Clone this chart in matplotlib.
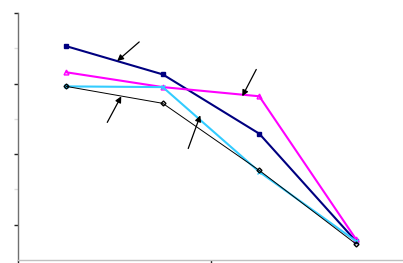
import matplotlib
matplotlib.use('Agg')
from matplotlib import pyplot
from matplotlib.ticker import FixedLocator

# Data #
categories = [0, 1, 2, 3]
navy_vals    = [3.53, 3.13, 2.29, 0.77]
magenta_vals = [3.16, 2.95, 2.82, 0.80]
cyan_vals    = [2.96, 2.95, 1.75, 0.77]
black_vals   = [2.96, 2.72, 1.77, 0.73]

# Arrows (tail, head) in data units #
arrows = [((0.756, 3.59), (0.528, 3.32)),
          ((0.425, 2.45), (0.570, 2.82)),
          ((1.264, 2.08), (1.389, 2.55)),
          ((1.969, 3.20), (1.824, 2.82))]

# Figure #
fig = pyplot.figure(figsize=(4.03, 2.63), dpi=100)
axes = fig.add_axes([18/403, 3/263, 386/403, 247/263])

# Series #
axes.plot(categories, navy_vals, color='#000080', lw=1.5, marker='s', ms=3,
          mfc='#000080', mec='#000080')
axes.plot(categories, magenta_vals, color='#FF00FF', lw=1.5, marker='^', ms=3.5,
          mfc='none', mec='#FF00FF')
axes.plot(categories, cyan_vals, color='#33CCFF', lw=1.5, marker='x', ms=3.5,
          mec='#33CCFF')
axes.plot(categories, black_vals, color='black', lw=0.7, marker='D', ms=2.5,
          mfc='none', mec='black')

# Arrows #
for tail, head in arrows:
    axes.annotate('', xy=head, xytext=tail,
                  arrowprops=dict(arrowstyle='-|>', color='black', lw=0.9,
                                  mutation_scale=9, shrinkA=0, shrinkB=0))

# Limits #
axes.set_xlim(-0.5, 3.5)
axes.set_ylim(0.5, 4.0)

# Ticks #
axes.xaxis.set_major_locator(FixedLocator([-0.5, 1.5, 3.5]))
axes.yaxis.set_major_locator(FixedLocator([1, 2, 3, 4]))
axes.yaxis.set_minor_locator(FixedLocator([1.5, 2.5, 3.5]))
axes.set_xticklabels([])
axes.set_yticklabels([])
axes.tick_params(axis='x', which='major', direction='out', length=3, width=1, color='#222222')
axes.tick_params(axis='y', which='major', direction='out', length=3, width=1, color='#222222')
axes.tick_params(axis='y', which='minor', direction='out', length=3, width=1, color='#dddddd')

# Frame #
axes.spines['top'].set_visible(False)
axes.spines['right'].set_visible(False)
axes.spines['left'].set_color('#707070')
axes.spines['left'].set_linewidth(1.0)
axes.spines['bottom'].set_color('#c0c0c0')
axes.spines['bottom'].set_linewidth(1.0)

# Save #
fig.savefig('out.png', dpi=100)
pyplot.close(fig)
